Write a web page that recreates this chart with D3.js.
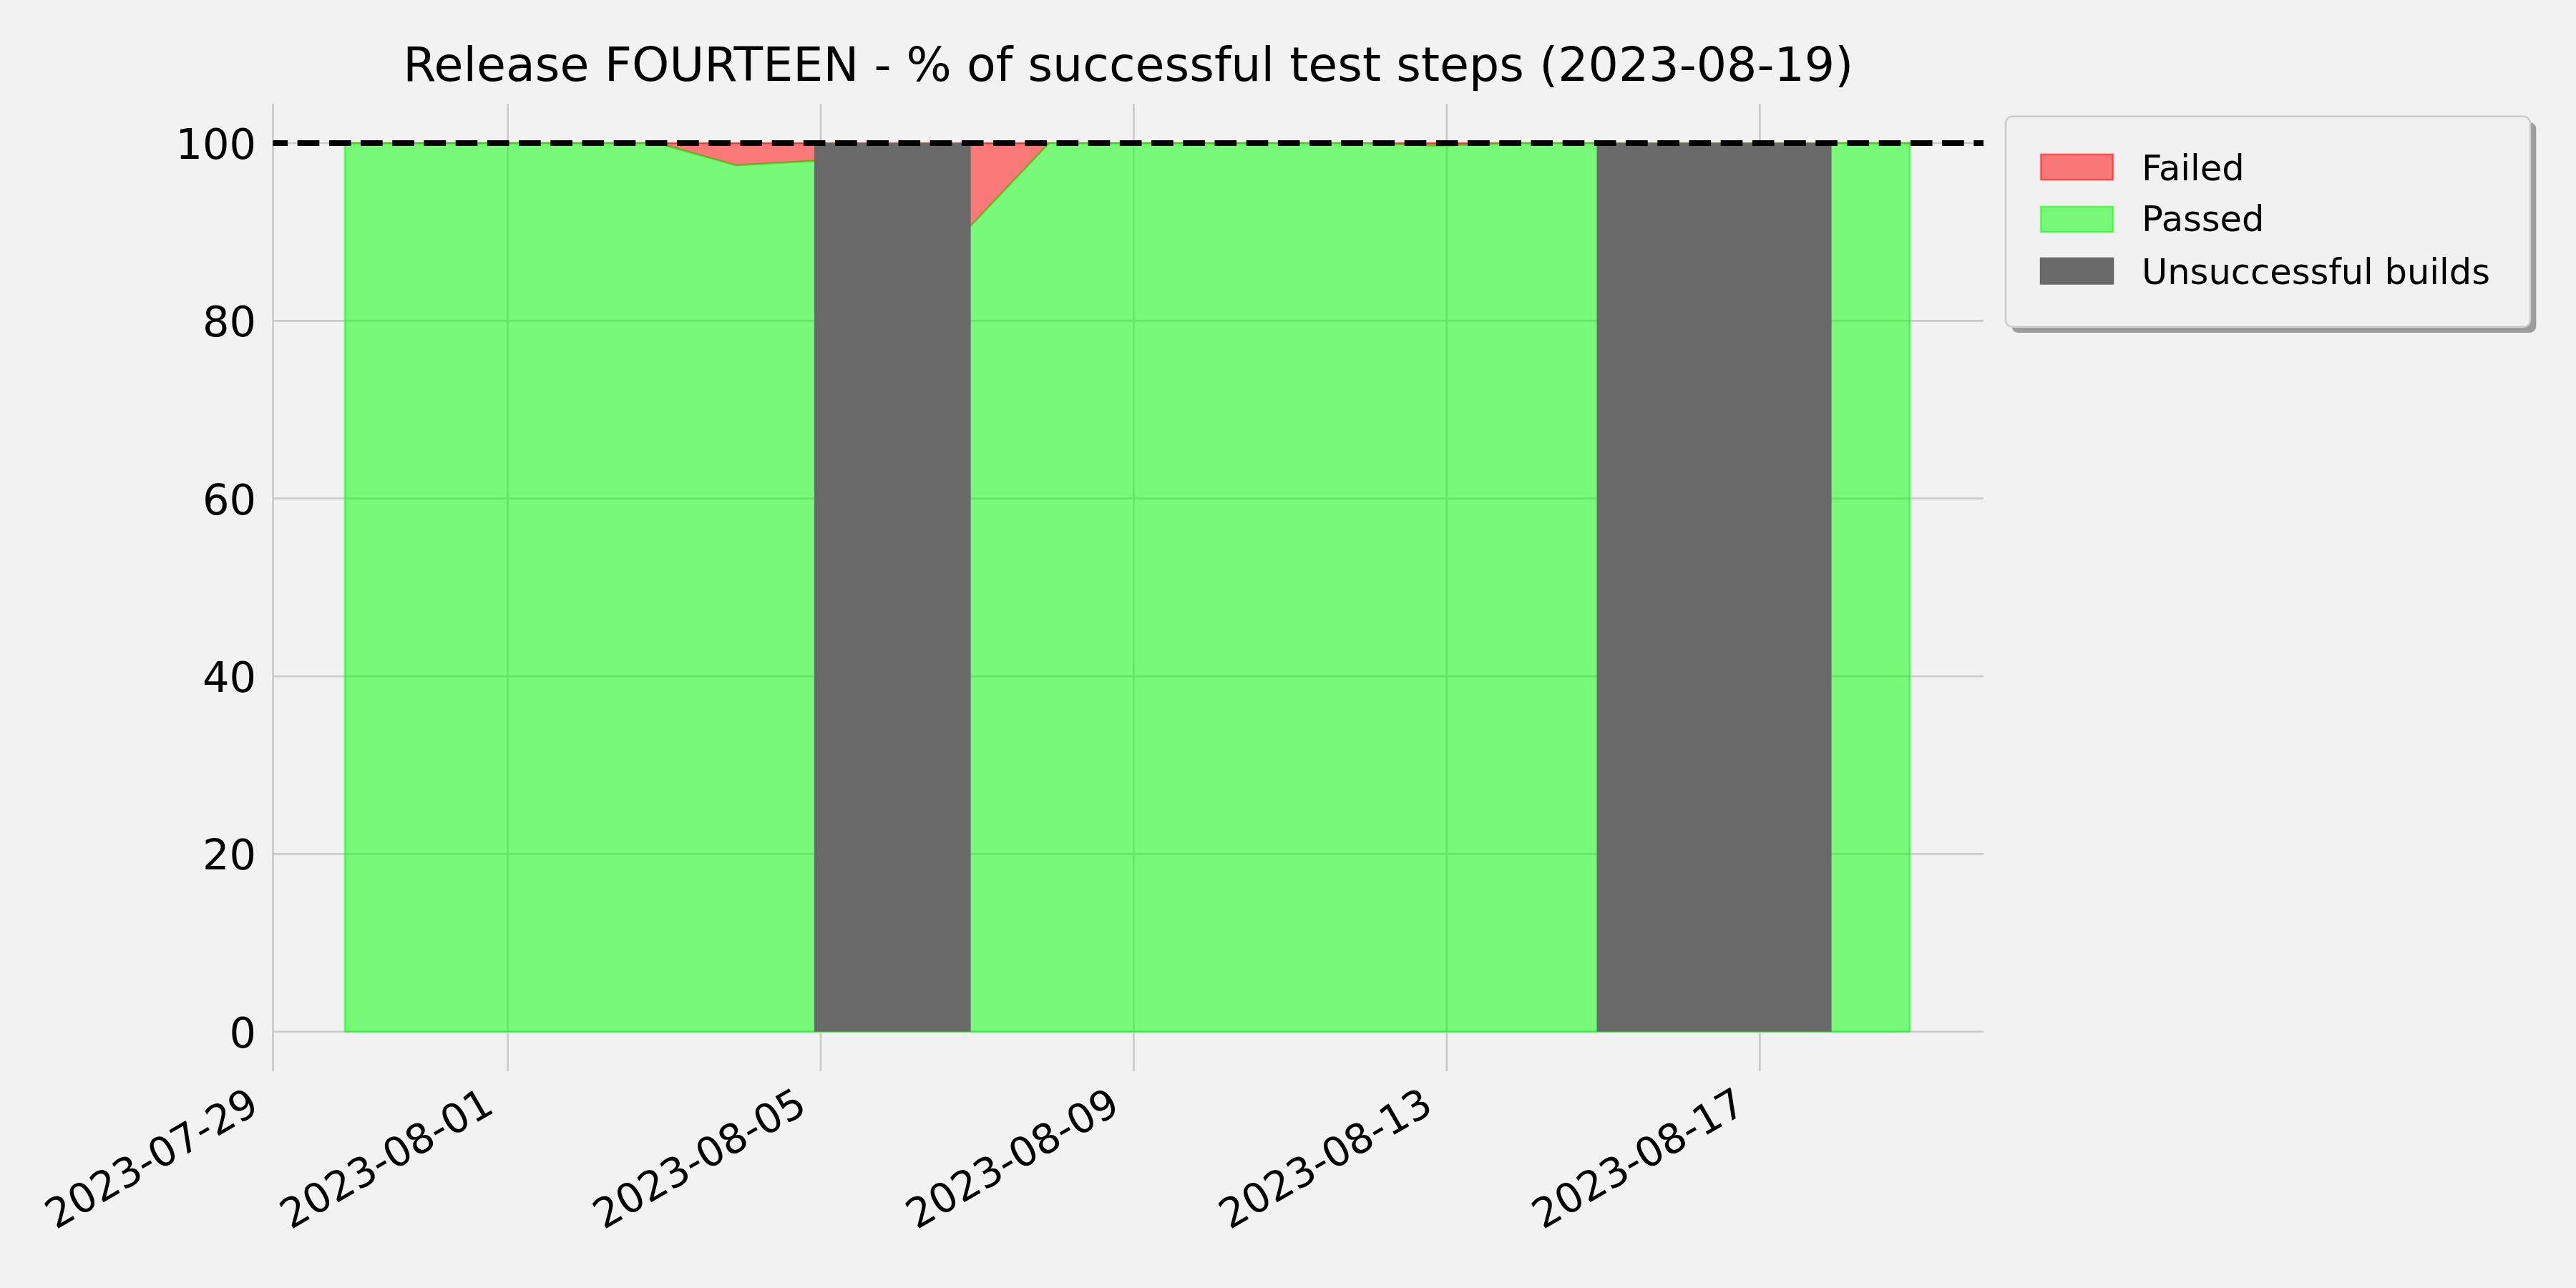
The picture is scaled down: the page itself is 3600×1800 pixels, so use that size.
<!DOCTYPE html>
<html>
<head>
<meta charset="utf-8">
<script src="https://cdn.jsdelivr.net/npm/d3@7"></script>
<style>
  html, body { margin: 0; padding: 0; background: #f2f2f2; }
  svg { display: block; }
  text { font-family: "DejaVu Sans", sans-serif; fill: #000; }
</style>
</head>
<body>
<svg id="chart" width="3600" height="1800"></svg>
<script>
// ---------------- DATA ----------------
const titleText = "Release FOURTEEN - % of successful test steps (2023-08-19)";
const buildDates = ["2023-07-29","2023-07-30","2023-07-31","2023-08-01","2023-08-02","2023-08-03","2023-08-04",
  "2023-08-05","2023-08-06","2023-08-07","2023-08-08","2023-08-09","2023-08-10","2023-08-11","2023-08-12",
  "2023-08-13","2023-08-14","2023-08-15","2023-08-16","2023-08-17","2023-08-18"];
const buildTime = "22:00";
const passedPct = [100,100,100,100,100,97.5,98.0,95.0,90.7,100,100,100,100,100,99.7,100,100,100,100,100,100];
const failedPct = [0,0,0,0,0,2.5,2.0,5.0,9.3,0,0,0,0,0,0.3,0,0,0,0,0,0];
const unsuccessfulSpans = [["2023-08-04","2023-08-06"],["2023-08-14","2023-08-17"]];
const xTickLabels = ["2023-07-29","2023-08-01","2023-08-05","2023-08-09","2023-08-13","2023-08-17"];
const yTickValues = [0,20,40,60,80,100];
const targetLine = 100;
const legendLabels = ["Failed","Passed","Unsuccessful builds"];

// ---------------- SETUP ----------------
const parseDT = d3.timeParse("%Y-%m-%d %H:%M");
const parseD = d3.timeParse("%Y-%m-%d");
const rows = buildDates.map((d,i) => ({date: parseDT(d + " " + buildTime), passed: passedPct[i], failed: failedPct[i]}));

const plot = {left: 381.5, right: 2772, top: 145, bottom: 1497};
const xDomainStart = parseDT("2023-07-29 00:00");
const xDomainEnd = parseDT("2023-08-19 20:37");
const x = d3.scaleTime().domain([xDomainStart, xDomainEnd]).range([plot.left, plot.right]);
const y = d3.scaleLinear().domain([-4.45, 104.43]).range([plot.bottom, plot.top]);

const svg = d3.select("#chart");
svg.append("rect").attr("width",3600).attr("height",1800).attr("fill","#f2f2f2");

// grid
const grid = svg.append("g");
const xTicks = xTickLabels.map(parseD);
grid.selectAll(".vg").data(xTicks).join("line")
  .attr("x1",d=>x(d)).attr("x2",d=>x(d)).attr("y1",plot.top).attr("y2",plot.bottom)
  .attr("stroke","#cbcbcb").attr("stroke-width",2.7);
grid.selectAll(".hg").data(yTickValues).join("line")
  .attr("x1",plot.left).attr("x2",plot.right).attr("y1",d=>y(d)).attr("y2",d=>y(d))
  .attr("stroke","#cbcbcb").attr("stroke-width",2.7);

// areas
const failedArea = d3.area().x(d=>x(d.date)).y0(d=>y(d.passed)).y1(d=>y(d.passed + d.failed));
const passedArea = d3.area().x(d=>x(d.date)).y0(y(0)).y1(d=>y(d.passed));
svg.append("path").datum(rows).attr("d", d => failedArea(d) )
  .attr("fill","rgba(255,0,0,0.5)").attr("stroke","rgba(255,0,0,0.5)").attr("stroke-width",2.5)
  .attr("stroke-linejoin","round");
svg.append("path").datum(rows).attr("d", d => passedArea(d))
  .attr("fill","rgba(0,255,0,0.5)").attr("stroke","rgba(0,255,0,0.5)").attr("stroke-width",2.5)
  .attr("stroke-linejoin","round");

// unsuccessful builds
svg.selectAll(".span").data(unsuccessfulSpans).join("rect")
  .attr("x", d => x(parseDT(d[0]+" "+buildTime)))
  .attr("width", d => x(parseDT(d[1]+" "+buildTime)) - x(parseDT(d[0]+" "+buildTime)))
  .attr("y", y(100)).attr("height", y(0)-y(100))
  .attr("fill","#696969");

// dashed target line
svg.append("line").attr("x1",plot.left).attr("x2",plot.right)
  .attr("y1",y(targetLine)).attr("y2",y(targetLine))
  .attr("stroke","#000").attr("stroke-width",8)
  .attr("stroke-dasharray","30.6 13.6").attr("stroke-dashoffset",10);

// x axis labels
const xAxis = d3.axisBottom(x).tickValues(xTicks).tickFormat(d3.timeFormat("%Y-%m-%d")).tickSize(0);
const gx = svg.append("g").attr("transform",`translate(0,${plot.bottom})`).call(xAxis);
gx.select(".domain").remove();
gx.selectAll("text")
  .attr("x",0).attr("y",0).attr("dy",null)
  .attr("font-size",57).attr("font-family","DejaVu Sans").attr("fill","#000")
  .attr("text-anchor","end")
  .attr("transform","translate(-17,56) rotate(-30)");

// y axis labels
const yAxis = d3.axisLeft(y).tickValues(yTickValues).tickFormat(d3.format("d")).tickSize(0);
const gy = svg.append("g").attr("transform",`translate(${plot.left},0)`).call(yAxis);
gy.select(".domain").remove();
gy.selectAll("text")
  .attr("x",-23.5).attr("dy","0.364em")
  .attr("font-size",59).attr("font-family","DejaVu Sans").attr("fill","#000")
  .attr("text-anchor","end");

// title
svg.append("text").attr("x",(plot.left+plot.right)/2).attr("y",113.3)
  .attr("text-anchor","middle").attr("font-size",66.6).text(titleText);

// legend
const lg = svg.append("g");
const L = {x:2803, y:162.7, w:733, h:294};
lg.append("rect").attr("x",L.x+8.3).attr("y",L.y+8.3).attr("width",L.w).attr("height",L.h)
  .attr("rx",9).attr("fill","#9c9c9c");
lg.append("rect").attr("x",L.x).attr("y",L.y).attr("width",L.w).attr("height",L.h)
  .attr("rx",9).attr("fill","#f1f1f1").attr("stroke","#cccccc").attr("stroke-width",2.5);
const legFill = ["rgba(255,0,0,0.5)","rgba(0,255,0,0.5)","#696969"];
const legStroke = ["rgba(255,0,0,0.5)","rgba(0,255,0,0.5)","#696969"];
const rowTop = [215.7, 288.7, 361];
const rowBase = [251.7, 323.3, 396.7];
legendLabels.forEach((lab,i) => {
  lg.append("rect").attr("x",2852).attr("y",rowTop[i]).attr("width",101).attr("height",35.5)
    .attr("fill",legFill[i]).attr("stroke",legStroke[i]).attr("stroke-width",2.5);
  lg.append("text").attr("x",2993).attr("y",rowBase[i]).attr("font-size",49.5).text(lab);
});
</script>
</body>
</html>
